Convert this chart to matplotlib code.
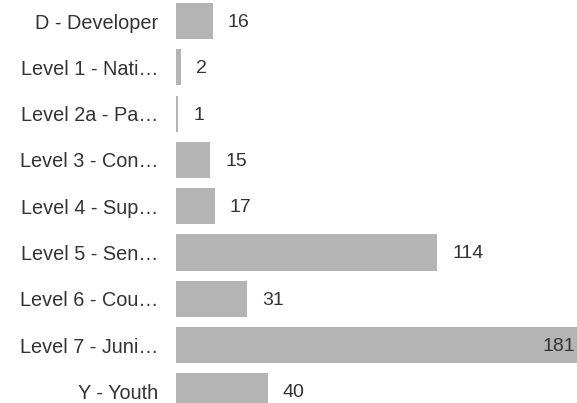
import numpy as np
import matplotlib
matplotlib.use('Agg')
import matplotlib.pyplot as plt

categories = ['D - Developer', 'Level 1 - Nati\u2026', 'Level 2a - Pa\u2026', 'Level 3 - Con\u2026',
              'Level 4 - Sup\u2026', 'Level 5 - Sen\u2026', 'Level 6 - Cou\u2026', 'Level 7 - Juni\u2026',
              'Y - Youth']
counts = [16, 2, 1, 15, 17, 114, 31, 181, 40]

plt.rcParams['font.family'] = ['Liberation Sans', 'DejaVu Sans']

fig = plt.figure(figsize=(5.77, 4.03), dpi=100)
ax = fig.add_axes([176 / 577, 0, 401 / 577, 1])

y = np.arange(len(categories))
ax.barh(y, counts, height=0.78, color='#b4b4b4')

# 181 runs past the right edge, like the reference
xmax = 401 / 2.29
ax.set_xlim(0, xmax)
ax.set_ylim(8.25, -0.454)

for i, v in enumerate(counts):
    if v > xmax * 0.9:
        ax.text(xmax - 1, i + 0.03, str(v), ha='right', va='center', fontsize=14, color='#333333')
    else:
        ax.annotate(str(v), (v, i + 0.03), xytext=(15, 0), textcoords='offset pixels',
                    ha='left', va='center', fontsize=14, color='#333333')

ax.set_yticks(y)
ax.set_yticklabels(categories, fontsize=14.3, color='#333333')
ax.tick_params(axis='y', length=0, pad=13)
ax.set_xticks([])
for s in ax.spines.values():
    s.set_visible(False)

fig.savefig('out.png', dpi=100)
